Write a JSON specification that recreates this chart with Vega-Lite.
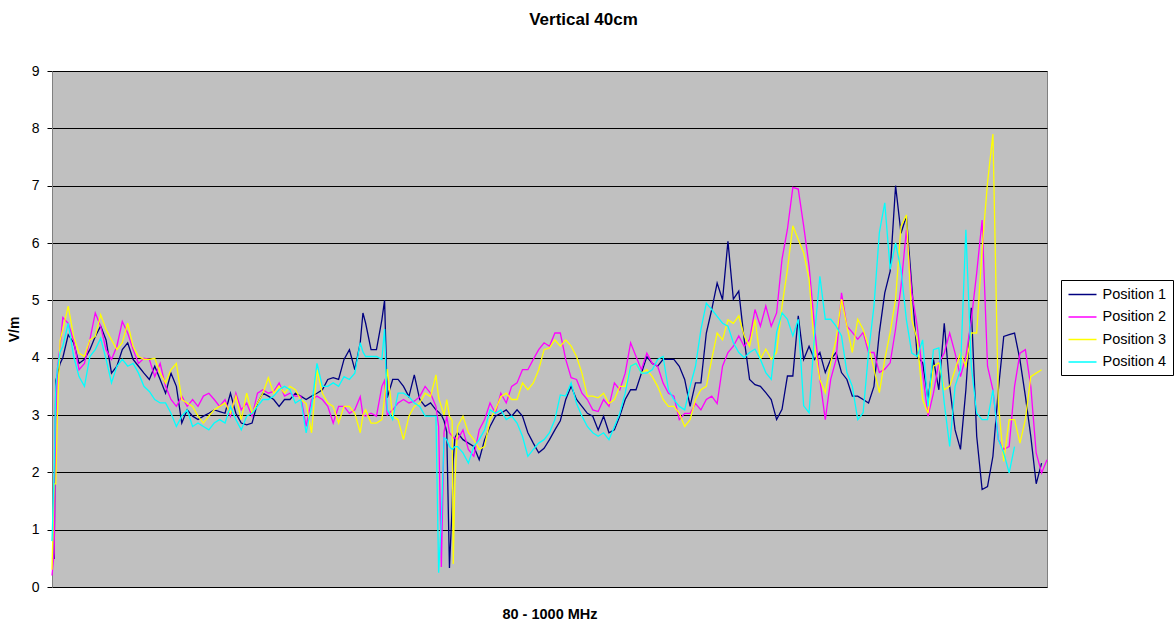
{
 "$schema": "https://vega.github.io/schema/vega-lite/v6.json",
 "autosize": {"type": "none"},
 "width": 995,
 "height": 516,
 "padding": {"left": 52, "top": 71, "right": 127, "bottom": 34},
 "background": "white",
 "title": {"text": "Vertical 40cm", "font": "Liberation Sans", "fontSize": 17, "fontWeight": "bold", "color": "black", "offset": 35, "dx": 34, "anchor": "middle"},
 "config": {"view": {"fill": "#C0C0C0", "stroke": "#808080", "strokeWidth": 1}},
 "data": {"values": [
  {"f":80,"p1":0.5,"p2":0.2,"p3":0.3,"p4":0.8},
  {"f":82,"p1":0.5,"p2":0.6,"p3":1.8,"p4":2.0},
  {"f":83.5,"p1":3.6,"p2":3.0,"p3":1.8,"p4":3.5},
  {"f":85,"p1":3.7,"p2":3.8,"p3":3.0,"p4":3.8},
  {"f":87.5,"p1":3.9,"p2":4.2,"p3":4.3,"p4":4.1},
  {"f":90,"p1":4.0,"p2":4.7,"p3":4.5,"p4":4.2},
  {"f":95,"p1":4.4,"p2":4.6,"p3":4.9,"p4":4.6},
  {"f":100,"p1":4.26,"p2":4.3,"p3":4.37,"p4":4.02},
  {"f":105,"p1":3.9,"p2":3.79,"p3":4.08,"p4":3.67},
  {"f":110,"p1":3.97,"p2":3.9,"p3":4.02,"p4":3.5},
  {"f":115,"p1":4.14,"p2":4.31,"p3":4.31,"p4":4.02},
  {"f":120,"p1":4.37,"p2":4.78,"p3":4.37,"p4":4.14},
  {"f":125,"p1":4.55,"p2":4.55,"p3":4.75,"p4":4.34},
  {"f":130,"p1":4.31,"p2":4.14,"p3":4.49,"p4":3.97},
  {"f":135,"p1":3.73,"p2":3.97,"p3":4.31,"p4":3.56},
  {"f":140,"p1":3.85,"p2":4.2,"p3":4.14,"p4":3.85},
  {"f":145,"p1":4.14,"p2":4.63,"p3":4.26,"p4":3.97},
  {"f":150,"p1":4.26,"p2":4.43,"p3":4.6,"p4":3.85},
  {"f":155,"p1":3.97,"p2":4.14,"p3":4.2,"p4":3.9},
  {"f":160,"p1":3.85,"p2":3.9,"p3":4.02,"p4":3.73},
  {"f":165,"p1":3.73,"p2":3.99,"p3":3.97,"p4":3.5},
  {"f":170,"p1":3.62,"p2":3.97,"p3":3.97,"p4":3.41},
  {"f":175,"p1":3.85,"p2":3.67,"p3":3.99,"p4":3.27},
  {"f":180,"p1":3.62,"p2":3.9,"p3":3.73,"p4":3.21},
  {"f":185,"p1":3.38,"p2":3.5,"p3":3.56,"p4":3.21},
  {"f":190,"p1":3.73,"p2":3.27,"p3":3.79,"p4":3.03},
  {"f":195,"p1":3.5,"p2":3.15,"p3":3.9,"p4":2.8},
  {"f":200,"p1":2.86,"p2":3.33,"p3":3.27,"p4":2.98},
  {"f":205,"p1":3.09,"p2":3.15,"p3":3.21,"p4":3.09},
  {"f":210,"p1":2.98,"p2":3.27,"p3":3.15,"p4":2.8},
  {"f":215,"p1":2.92,"p2":3.15,"p3":2.98,"p4":2.86},
  {"f":220,"p1":2.98,"p2":3.33,"p3":2.86,"p4":2.8},
  {"f":225,"p1":3.03,"p2":3.38,"p3":2.98,"p4":2.74},
  {"f":230,"p1":3.09,"p2":3.27,"p3":3.09,"p4":2.86},
  {"f":235,"p1":3.06,"p2":3.15,"p3":3.15,"p4":2.92},
  {"f":240,"p1":3.03,"p2":3.27,"p3":3.21,"p4":2.86},
  {"f":245,"p1":3.38,"p2":2.98,"p3":3.03,"p4":3.15},
  {"f":250,"p1":3.03,"p2":3.38,"p3":3.33,"p4":2.92},
  {"f":255,"p1":2.86,"p2":3.09,"p3":2.92,"p4":2.74},
  {"f":260,"p1":2.83,"p2":3.21,"p3":3.38,"p4":2.98},
  {"f":265,"p1":2.86,"p2":2.98,"p3":3.03,"p4":3.03},
  {"f":270,"p1":3.21,"p2":3.38,"p3":3.21,"p4":3.15},
  {"f":275,"p1":3.38,"p2":3.44,"p3":3.38,"p4":3.27},
  {"f":280,"p1":3.33,"p2":3.38,"p3":3.65,"p4":3.27},
  {"f":285,"p1":3.27,"p2":3.41,"p3":3.38,"p4":3.33},
  {"f":290,"p1":3.15,"p2":3.56,"p3":3.5,"p4":3.44},
  {"f":295,"p1":3.27,"p2":3.33,"p3":3.38,"p4":3.5},
  {"f":300,"p1":3.27,"p2":3.38,"p3":3.5,"p4":3.44},
  {"f":305,"p1":3.38,"p2":3.33,"p3":3.44,"p4":3.21},
  {"f":310,"p1":3.33,"p2":3.33,"p3":3.27,"p4":3.27},
  {"f":315,"p1":3.27,"p2":2.8,"p3":3.2,"p4":2.69},
  {"f":320,"p1":3.33,"p2":3.27,"p3":2.69,"p4":3.15},
  {"f":325,"p1":3.38,"p2":3.33,"p3":3.79,"p4":3.9},
  {"f":330,"p1":3.44,"p2":3.27,"p3":3.38,"p4":3.5},
  {"f":335,"p1":3.62,"p2":3.15,"p3":3.21,"p4":3.5},
  {"f":340,"p1":3.65,"p2":2.86,"p3":3.15,"p4":3.56},
  {"f":345,"p1":3.62,"p2":3.15,"p3":2.86,"p4":3.5},
  {"f":350,"p1":3.97,"p2":3.15,"p3":3.15,"p4":3.67},
  {"f":355,"p1":4.14,"p2":3.03,"p3":3.15,"p4":3.62},
  {"f":360,"p1":3.79,"p2":3.09,"p3":3.03,"p4":3.73},
  {"f":365,"p1":4.26,"p2":3.32,"p3":2.69,"p4":4.26},
  {"f":367.5,"p1":4.78,"p2":3.0,"p3":3.0,"p4":4.1},
  {"f":370,"p1":4.6,"p2":2.98,"p3":3.09,"p4":4.02},
  {"f":375,"p1":4.14,"p2":3.03,"p3":2.86,"p4":4.02},
  {"f":380,"p1":4.14,"p2":2.98,"p3":2.86,"p4":4.02},
  {"f":385,"p1":4.66,"p2":3.5,"p3":2.92,"p4":3.97},
  {"f":387.5,"p1":5.0,"p2":3.6,"p3":3.3,"p4":4.5},
  {"f":390,"p1":3.3,"p2":3.0,"p3":3.8,"p4":3.1},
  {"f":395,"p1":3.62,"p2":3.09,"p3":2.98,"p4":2.92},
  {"f":400,"p1":3.62,"p2":3.21,"p3":2.92,"p4":3.38},
  {"f":405,"p1":3.5,"p2":3.27,"p3":2.57,"p4":3.38},
  {"f":410,"p1":3.32,"p2":3.21,"p3":2.98,"p4":3.32},
  {"f":415,"p1":3.7,"p2":3.24,"p3":3.15,"p4":3.21},
  {"f":420,"p1":3.27,"p2":3.32,"p3":3.21,"p4":3.15},
  {"f":425,"p1":3.15,"p2":3.5,"p3":3.38,"p4":2.98},
  {"f":430,"p1":3.21,"p2":3.38,"p3":3.32,"p4":2.98},
  {"f":435,"p1":3.09,"p2":3.15,"p3":3.7,"p4":2.98},
  {"f":437.5,"p1":3.05,"p2":2.8,"p3":3.3,"p4":0.25},
  {"f":440,"p1":3.0,"p2":0.35,"p3":3.15,"p4":1.2},
  {"f":442.5,"p1":2.9,"p2":2.7,"p3":3.0,"p4":2.6},
  {"f":445,"p1":2.7,"p2":2.98,"p3":3.27,"p4":2.57},
  {"f":447.5,"p1":0.33,"p2":2.69,"p3":2.98,"p4":2.45},
  {"f":450,"p1":1.4,"p2":2.63,"p3":2.9,"p4":2.4},
  {"f":451,"p1":2.2,"p2":2.6,"p3":0.4,"p4":2.42},
  {"f":452.5,"p1":2.6,"p2":2.6,"p3":1.8,"p4":2.45},
  {"f":455,"p1":2.69,"p2":2.57,"p3":2.8,"p4":2.45},
  {"f":460,"p1":2.57,"p2":2.74,"p3":2.98,"p4":2.34},
  {"f":465,"p1":2.51,"p2":2.4,"p3":2.69,"p4":2.16},
  {"f":470,"p1":2.45,"p2":2.28,"p3":2.57,"p4":2.45},
  {"f":475,"p1":2.22,"p2":2.74,"p3":2.4,"p4":2.57},
  {"f":480,"p1":2.57,"p2":2.92,"p3":2.45,"p4":2.74},
  {"f":485,"p1":2.8,"p2":3.21,"p3":2.92,"p4":3.09},
  {"f":490,"p1":2.98,"p2":3.03,"p3":3.09,"p4":3.03},
  {"f":495,"p1":3.03,"p2":3.38,"p3":3.32,"p4":3.09},
  {"f":500,"p1":3.09,"p2":3.21,"p3":3.38,"p4":2.92},
  {"f":505,"p1":2.98,"p2":3.5,"p3":3.27,"p4":2.98},
  {"f":510,"p1":3.09,"p2":3.56,"p3":3.27,"p4":2.86},
  {"f":515,"p1":2.98,"p2":3.79,"p3":3.56,"p4":2.63},
  {"f":520,"p1":2.69,"p2":3.79,"p3":3.44,"p4":2.28},
  {"f":525,"p1":2.51,"p2":3.97,"p3":3.56,"p4":2.4},
  {"f":530,"p1":2.34,"p2":4.14,"p3":3.79,"p4":2.51},
  {"f":535,"p1":2.42,"p2":4.26,"p3":4.14,"p4":2.57},
  {"f":540,"p1":2.57,"p2":4.2,"p3":4.17,"p4":2.69},
  {"f":545,"p1":2.74,"p2":4.43,"p3":4.31,"p4":2.92},
  {"f":550,"p1":2.9,"p2":4.43,"p3":4.2,"p4":3.35},
  {"f":555,"p1":3.27,"p2":3.97,"p3":4.31,"p4":3.33},
  {"f":560,"p1":3.5,"p2":3.65,"p3":4.2,"p4":3.56},
  {"f":565,"p1":3.27,"p2":3.62,"p3":4.02,"p4":3.2},
  {"f":570,"p1":3.15,"p2":3.38,"p3":3.73,"p4":2.98},
  {"f":575,"p1":3.03,"p2":3.27,"p3":3.33,"p4":2.8},
  {"f":580,"p1":2.98,"p2":3.09,"p3":3.33,"p4":2.69},
  {"f":585,"p1":2.74,"p2":3.06,"p3":3.3,"p4":2.63},
  {"f":590,"p1":2.98,"p2":3.27,"p3":3.38,"p4":2.69},
  {"f":595,"p1":2.69,"p2":3.15,"p3":3.2,"p4":2.57},
  {"f":600,"p1":2.74,"p2":3.56,"p3":3.27,"p4":2.8},
  {"f":605,"p1":2.98,"p2":3.44,"p3":3.5,"p4":3.03},
  {"f":610,"p1":3.27,"p2":3.73,"p3":3.5,"p4":3.38},
  {"f":615,"p1":3.44,"p2":4.26,"p3":3.85,"p4":3.85},
  {"f":620,"p1":3.44,"p2":4.02,"p3":3.9,"p4":3.9},
  {"f":625,"p1":3.73,"p2":3.79,"p3":3.73,"p4":3.73},
  {"f":630,"p1":4.02,"p2":4.08,"p3":3.79,"p4":3.73},
  {"f":635,"p1":3.9,"p2":3.9,"p3":3.67,"p4":3.79},
  {"f":640,"p1":3.85,"p2":3.85,"p3":3.5,"p4":3.97},
  {"f":645,"p1":3.97,"p2":3.56,"p3":3.27,"p4":4.02},
  {"f":650,"p1":3.97,"p2":3.38,"p3":3.15,"p4":3.44},
  {"f":655,"p1":3.97,"p2":3.33,"p3":3.15,"p4":3.27},
  {"f":660,"p1":3.85,"p2":2.92,"p3":3.03,"p4":3.15},
  {"f":665,"p1":3.62,"p2":3.03,"p3":2.8,"p4":3.09},
  {"f":670,"p1":3.15,"p2":3.03,"p3":2.92,"p4":3.5},
  {"f":675,"p1":3.56,"p2":3.2,"p3":3.27,"p4":3.85},
  {"f":680,"p1":3.56,"p2":3.09,"p3":3.44,"p4":4.49},
  {"f":685,"p1":4.43,"p2":3.27,"p3":3.5,"p4":4.95},
  {"f":690,"p1":4.84,"p2":3.33,"p3":3.97,"p4":4.84},
  {"f":695,"p1":5.3,"p2":3.2,"p3":4.43,"p4":4.72},
  {"f":700,"p1":5.01,"p2":3.85,"p3":4.31,"p4":4.6},
  {"f":705,"p1":6.03,"p2":4.09,"p3":4.66,"p4":4.55},
  {"f":710,"p1":5.02,"p2":4.2,"p3":4.6,"p4":4.26},
  {"f":715,"p1":5.16,"p2":4.38,"p3":4.73,"p4":4.09},
  {"f":720,"p1":4.32,"p2":4.2,"p3":4.38,"p4":4.0},
  {"f":725,"p1":3.62,"p2":4.32,"p3":4.2,"p4":4.09},
  {"f":730,"p1":3.53,"p2":4.84,"p3":4.67,"p4":4.15},
  {"f":735,"p1":3.5,"p2":4.55,"p3":3.97,"p4":3.97},
  {"f":740,"p1":3.39,"p2":4.9,"p3":4.15,"p4":3.74},
  {"f":745,"p1":3.27,"p2":4.55,"p3":3.97,"p4":3.62},
  {"f":750,"p1":2.92,"p2":4.78,"p3":4.09,"p4":4.44},
  {"f":755,"p1":3.1,"p2":5.72,"p3":4.9,"p4":4.78},
  {"f":760,"p1":3.68,"p2":6.24,"p3":5.54,"p4":4.67},
  {"f":765,"p1":3.68,"p2":6.97,"p3":6.3,"p4":4.38},
  {"f":770,"p1":4.73,"p2":6.94,"p3":6.06,"p4":4.67},
  {"f":775,"p1":3.97,"p2":6.3,"p3":5.83,"p4":3.16},
  {"f":780,"p1":4.2,"p2":5.6,"p3":5.37,"p4":3.04},
  {"f":785,"p1":3.97,"p2":4.55,"p3":4.2,"p4":4.38},
  {"f":790,"p1":4.09,"p2":3.62,"p3":3.62,"p4":5.42},
  {"f":795,"p1":3.74,"p2":2.92,"p3":3.39,"p4":4.67},
  {"f":800,"p1":3.97,"p2":3.62,"p3":3.91,"p4":4.67},
  {"f":805,"p1":4.09,"p2":3.97,"p3":4.32,"p4":4.55},
  {"f":810,"p1":3.74,"p2":5.13,"p3":5.02,"p4":4.38},
  {"f":815,"p1":3.62,"p2":4.55,"p3":4.55,"p4":3.74},
  {"f":820,"p1":3.33,"p2":4.44,"p3":4.09,"p4":3.5},
  {"f":825,"p1":3.33,"p2":4.32,"p3":4.67,"p4":2.92},
  {"f":830,"p1":3.27,"p2":4.44,"p3":4.49,"p4":3.04},
  {"f":835,"p1":3.21,"p2":4.09,"p3":4.2,"p4":4.09},
  {"f":840,"p1":3.5,"p2":4.09,"p3":3.8,"p4":4.9},
  {"f":845,"p1":4.44,"p2":3.74,"p3":3.39,"p4":6.18},
  {"f":850,"p1":5.13,"p2":3.8,"p3":3.97,"p4":6.7},
  {"f":855,"p1":5.51,"p2":3.91,"p3":4.44,"p4":5.54},
  {"f":860,"p1":7.0,"p2":4.5,"p3":5.02,"p4":6.0},
  {"f":865,"p1":6.17,"p2":5.24,"p3":6.29,"p4":5.53},
  {"f":870,"p1":6.47,"p2":6.23,"p3":6.49,"p4":4.66},
  {"f":875,"p1":5.24,"p2":5.13,"p3":4.66,"p4":4.08},
  {"f":880,"p1":4.02,"p2":4.55,"p3":4.31,"p4":4.02},
  {"f":885,"p1":3.91,"p2":3.73,"p3":3.27,"p4":4.31},
  {"f":890,"p1":3.27,"p2":2.98,"p3":3.03,"p4":3.15},
  {"f":895,"p1":3.97,"p2":3.38,"p3":3.85,"p4":4.14},
  {"f":900,"p1":3.44,"p2":3.91,"p3":3.91,"p4":4.17},
  {"f":905,"p1":4.6,"p2":4.08,"p3":3.44,"p4":3.21},
  {"f":910,"p1":3.5,"p2":4.43,"p3":3.5,"p4":2.45},
  {"f":915,"p1":2.74,"p2":4.08,"p3":3.79,"p4":3.5},
  {"f":920,"p1":2.4,"p2":3.67,"p3":4.08,"p4":3.79},
  {"f":925,"p1":3.44,"p2":4.02,"p3":3.85,"p4":6.23},
  {"f":930,"p1":4.87,"p2":4.66,"p3":4.43,"p4":3.85},
  {"f":935,"p1":2.63,"p2":5.48,"p3":4.43,"p4":3.03},
  {"f":940,"p1":1.7,"p2":6.4,"p3":5.9,"p4":2.92},
  {"f":945,"p1":1.75,"p2":3.85,"p3":7.05,"p4":2.92},
  {"f":950,"p1":2.28,"p2":3.44,"p3":7.9,"p4":3.44},
  {"f":955,"p1":3.44,"p2":2.57,"p3":3.21,"p4":2.57},
  {"f":960,"p1":4.37,"p2":2.4,"p3":2.19,"p4":2.34},
  {"f":965,"p1":4.4,"p2":2.45,"p3":2.92,"p4":1.99},
  {"f":970,"p1":4.43,"p2":3.5,"p3":2.92,"p4":2.45},
  {"f":975,"p1":3.96,"p2":4.08,"p3":2.51,"p4":null},
  {"f":980,"p1":3.33,"p2":4.14,"p3":2.92,"p4":null},
  {"f":985,"p1":2.63,"p2":3.5,"p3":3.67,"p4":null},
  {"f":990,"p1":1.8,"p2":2.34,"p3":3.73,"p4":null},
  {"f":995,"p1":2.16,"p2":1.99,"p3":3.79,"p4":null},
  {"f":1000,"p1":null,"p2":2.22,"p3":null,"p4":null}
 ]},
 "transform": [
  {"fold": ["p1", "p2", "p3", "p4"], "as": ["series", "v"]},
  {"filter": "isValid(datum.v)"}
 ],
 "mark": {"type": "line", "strokeWidth": 1.3},
 "encoding": {
  "x": {"field": "f", "type": "quantitative",
   "scale": {"domain": [80, 1000], "nice": false, "zero": false},
   "axis": {"title": "80 - 1000 MHz", "labels": false, "ticks": false, "domain": false, "grid": false,
    "titleFont": "Liberation Sans", "titleFontSize": 14.5, "titleFontWeight": "bold", "titleColor": "black", "titlePadding": 20}},
  "y": {"field": "v", "type": "quantitative",
   "scale": {"domain": [0, 9], "nice": false},
   "axis": {"title": "V/m", "values": [0,1,2,3,4,5,6,7,8,9], "grid": true, "gridColor": "black", "gridOpacity": 1, "gridWidth": 1,
    "tickSize": 5, "tickColor": "black", "domainColor": "#808080",
    "labelFont": "Liberation Sans", "labelFontSize": 14, "labelColor": "black", "labelPadding": 8,
    "titleFont": "Liberation Sans", "titleFontSize": 14, "titleFontWeight": "bold", "titleColor": "black", "titlePadding": 10}},
  "color": {"field": "series", "type": "nominal",
   "scale": {"domain": ["p1", "p2", "p3", "p4"], "range": ["#000080", "#FF00FF", "#FFFF00", "#00FFFF"]},
   "legend": {"title": null, "orient": "none", "legendX": 1009, "legendY": 209,
    "labelExpr": "'Position ' + substring(datum.label, 1)",
    "fillColor": "white", "strokeColor": "black", "padding": 6.5, "cornerRadius": 0,
    "symbolType": "M-1,0H3", "symbolSize": 196, "symbolStrokeWidth": 1.5, "symbolFillColor": "transparent",
    "labelFont": "Liberation Sans", "labelFontSize": 14.5, "labelColor": "black", "labelOffset": 19, "rowPadding": 7.5}}
 }
}
